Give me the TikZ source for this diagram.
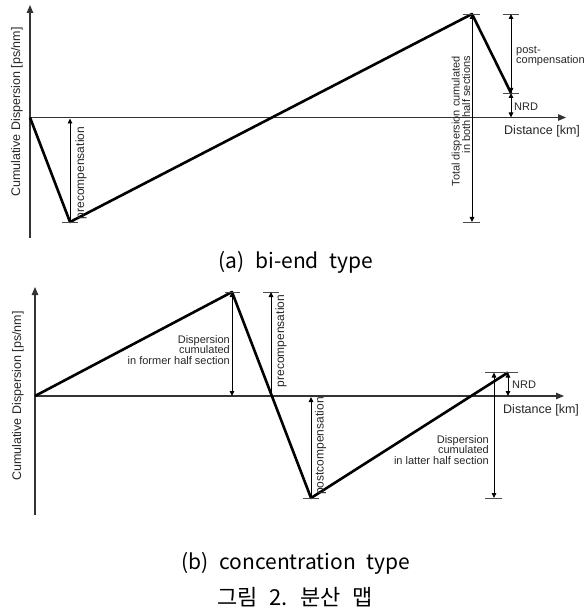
\documentclass[tikz,border=0pt]{standalone}
\usepackage{fontspec}
\setmainfont{Liberation Sans}
\newfontfamily\krfont[WordSpace=3.4]{Noto Sans CJK KR}
\newfontfamily\krfig[WordSpace=2.3]{Noto Sans CJK KR}
\usetikzlibrary{arrows.meta}
\tikzset{
  axis/.style={line width=1.2pt, color=black!80, -{Triangle[length=8pt,width=6.5pt]}},
  curve/.style={line width=2.6pt, line join=round},
  dim/.style={line width=0.9pt, {Triangle[length=5pt,width=4.5pt]}-{Triangle[length=5pt,width=4.5pt]}},
  dimup/.style={line width=0.9pt, -{Triangle[length=5pt,width=4.5pt]}},
  tick/.style={line width=0.9pt, color=black!70},
  lbl/.style={inner sep=0pt, font=\fontsize{11}{10.5}\selectfont, text=black!85},
  big/.style={inner sep=0pt, font=\fontsize{12.5}{14}\selectfont, text=black!85},
  caption/.style={inner sep=0pt, font=\krfont\fontsize{21}{24}\selectfont},
}
\def\dimtick(#1,#2)(#3){\draw[tick] ({#1-#3},#2) -- ({#1+#3},#2);}

\begin{document}
\begin{tikzpicture}[x=1pt, y=-1pt]
	%%%%% START %%%%%
	\useasboundingbox (0,0) rectangle (585,609);
	
	%%% (a) bi-end type
	\draw[axis] (30,238) -- (30,5);
	\draw[axis] (30,117.5) -- (566,117.5);
	\node[big, rotate=90] (ylabA) at (17,112) {Cumulative Dispersion [ps/nm]};
	\node[big, anchor=west] (xlabA) at (504,131) {Distance [km]};
	
	\draw[curve] (30,117.5) -- (70,222) -- (472,14) -- (511,93);
	
	\dimtick(70,222)(8)
	\draw[dimup] (70,222) -- (70,118.5);
	\node[lbl, rotate=90, font=\fontsize{12}{13}\selectfont] (preA) at (81,173) {precompensation};
	
	\dimtick(471.5,14)(8.5)
	\dimtick(471.5,222)(8.5)
	\draw[dim] (472,14) -- (472,222);
	\node[lbl, rotate=90, anchor=south east, align=right] (totA) at (470.5,56)
		{Total dispersion cumulated\\in both half sections};
	
	\dimtick(511,14)(8)
	\dimtick(511,93)(8)
	\draw[dim] (511,14) -- (511,93);
	\node[lbl, anchor=west, align=left] (postA) at (516,56) {post-\\compensation};
	\draw[dim] (511,93) -- (511,117.5);
	\node[lbl, anchor=west] (nrdA) at (514,107) {NRD};
	
	\node[caption] (capA) at (296,262) {(a) bi-end type};
	
	%%% (b) concentration type
	\draw[axis] (35,515) -- (35,287);
	\draw[axis] (35,396) -- (564,396);
	\node[big, rotate=90] (ylabB) at (18,396) {Cumulative Dispersion [ps/nm]};
	\node[big, anchor=west] (xlabB) at (503,410) {Distance [km]};
	
	\draw[curve] (35,396) -- (232,292) -- (311,498) -- (508,372.5);
	
	\dimtick(232.5,292)(7.5)
	\draw[dim] (232,292) -- (232,396);
	\node[lbl, anchor=east, align=right] (formB) at (230,350)
		{Dispersion\\cumulated\\in former half section};
	
	\dimtick(271,292)(8)
	\draw[dimup] (271,396) -- (271,292);
	\node[lbl, rotate=90, font=\fontsize{12}{13}\selectfont] (preB) at (281,341) {precompensation};
	
	\dimtick(311,498)(8)
	\draw[dimup] (311,498) -- (311,397);
	\node[lbl, rotate=90, font=\fontsize{12}{13}\selectfont] (postB) at (320.5,446) {postcompensation};
	
	\draw[tick] (485,372.5) -- (518,372.5);
	\dimtick(493.5,498)(8.5)
	\draw[dim] (494,372.5) -- (494,498);
	\node[lbl, anchor=east, align=right] (lattB) at (489,450)
		{Dispersion\\cumulated\\in latter half section};
	
	\draw[dim] (508,372.5) -- (508,396);
	\node[lbl, anchor=west] (nrdB) at (512,385) {NRD};
	
	\node[caption] (capB) at (296,563) {(b) concentration type};
	\node[caption, font=\krfig\fontsize{22}{24}\selectfont] (capFig) at (295,597) {그림 2. 분산 맵};
	
	%%%%% END %%%%%
\end{tikzpicture}
\end{document}
